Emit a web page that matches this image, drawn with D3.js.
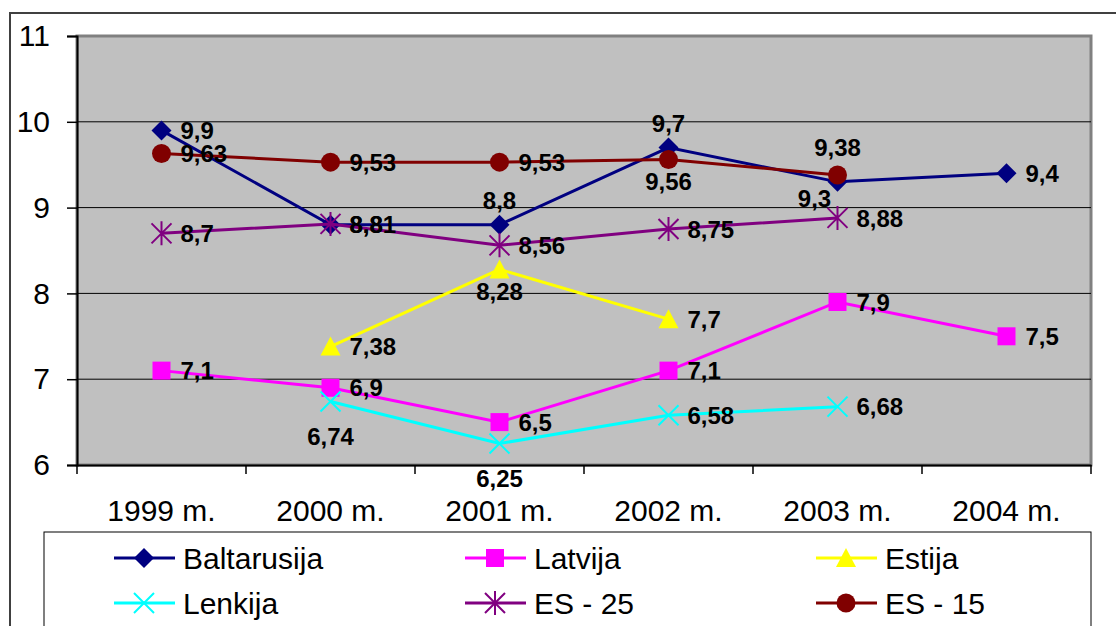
<!DOCTYPE html>
<html>
<head>
<meta charset="utf-8">
<script src="https://cdn.jsdelivr.net/npm/d3@7"></script>
<style>
  html, body { margin: 0; padding: 0; background: #fff; overflow: hidden; }
  svg { display: block; font-family: "Liberation Sans", Arial, sans-serif; }
</style>
</head>
<body>
<svg id="chart" width="1116" height="626"></svg>
<script>
// --- données ---
const years = ["1999 m.", "2000 m.", "2001 m.", "2002 m.", "2003 m.", "2004 m."];
const yTicks = [6, 7, 8, 9, 10, 11];

const baltarusija = [9.9, 8.8, 8.8, 9.7, 9.3, 9.4];
const latvija = [7.1, 6.9, 6.5, 7.1, 7.9, 7.5];
const estija = [null, 7.38, 8.28, 7.7, null, null];
const lenkija = [null, 6.74, 6.25, 6.58, 6.68, null];
const es25 = [8.7, 8.81, 8.56, 8.75, 8.88, null];
const es15 = [9.63, 9.53, 9.53, 9.56, 9.38, null];

// série : nom, valeurs, couleur, marqueur
const series = [
  { name: "Baltarusija", values: baltarusija, color: "#000080", marker: "diamond" },
  { name: "Latvija", values: latvija, color: "#ff00ff", marker: "square" },
  { name: "Estija", values: estija, color: "#ffff00", marker: "triangle" },
  { name: "Lenkija", values: lenkija, color: "#00ffff", marker: "cross" },
  { name: "ES - 25", values: es25, color: "#800080", marker: "star" },
  { name: "ES - 15", values: es15, color: "#800000", marker: "circle" }
];

// placement des étiquettes (r = droite par défaut)
const labelPlacement = {
  "Baltarusija": ["r", "r", "a", "a", "bl", "r"],
  "Estija": ["r", "r", "b", "r", "r", "r"],
  "Lenkija": ["r", "bb", "bb", "r", "r", "r"],
  "ES - 15": ["r", "r", "r", "b", "aa", "r"]
};

const svg = d3.select("#chart");

// cadre extérieur
svg.append("rect")
  .attr("x", 10).attr("y", 13)
  .attr("width", 1300).attr("height", 800)
  .attr("fill", "#fff").attr("stroke", "#404040").attr("stroke-width", 2);

const plot = { left: 77, top: 36, right: 1091, bottom: 465 };

const x = d3.scaleBand().domain(years).range([plot.left, plot.right]);
const y = d3.scaleLinear().domain([6, 11]).range([plot.bottom, plot.top]);

// fond gris
svg.append("rect")
  .attr("x", plot.left).attr("y", plot.top)
  .attr("width", plot.right - plot.left).attr("height", plot.bottom - plot.top)
  .attr("fill", "#c0c0c0").attr("stroke", "#808080").attr("stroke-width", 3);

// grille
svg.append("g")
  .selectAll("line")
  .data(yTicks.filter(t => t > 6 && t < 11))
  .join("line")
  .attr("x1", plot.left).attr("x2", plot.right)
  .attr("y1", d => y(d)).attr("y2", d => y(d))
  .attr("stroke", "#000").attr("stroke-width", 1);

// axe Y
const yAxis = svg.append("g")
  .attr("transform", `translate(${plot.left},0)`)
  .call(d3.axisLeft(y).tickValues(yTicks).tickSize(10).tickPadding(17).tickFormat(d3.format("d")));
yAxis.select(".domain").attr("stroke", "#000").attr("stroke-width", 2);
yAxis.selectAll(".tick line").attr("stroke", "#000").attr("stroke-width", 1.5);
yAxis.selectAll("text").attr("font-size", 30).attr("fill", "#000")
  .attr("font-family", "Liberation Sans, Arial, sans-serif");

// axe X
const xAxis = svg.append("g")
  .attr("transform", `translate(0,${plot.bottom})`)
  .call(d3.axisBottom(x).tickSize(0).tickPadding(35));
xAxis.select(".domain").attr("stroke", "#000").attr("stroke-width", 2);
xAxis.selectAll("text").attr("font-size", 30).attr("fill", "#000")
  .attr("font-family", "Liberation Sans, Arial, sans-serif");
// graduations entre catégories
svg.append("g")
  .selectAll("line")
  .data(years.map(d => x(d)).concat([plot.right]))
  .join("line")
  .attr("x1", d => d).attr("x2", d => d)
  .attr("y1", plot.bottom).attr("y2", plot.bottom + 9)
  .attr("stroke", "#000").attr("stroke-width", 1.5);

// marqueurs
function drawMarker(g, type, cx, cy, color) {
  if (type === "diamond") {
    g.append("path").attr("d", `M${cx},${cy - 10}L${cx + 10},${cy}L${cx},${cy + 10}L${cx - 10},${cy}Z`).attr("fill", color);
  } else if (type === "square") {
    g.append("rect").attr("x", cx - 9).attr("y", cy - 9).attr("width", 18).attr("height", 18).attr("fill", color);
  } else if (type === "triangle") {
    g.append("path").attr("d", `M${cx},${cy - 10}L${cx + 10},${cy + 9}L${cx - 10},${cy + 9}Z`).attr("fill", color);
  } else if (type === "circle") {
    g.append("circle").attr("cx", cx).attr("cy", cy).attr("r", 9.5).attr("fill", color);
  } else if (type === "cross") {
    g.append("path").attr("d", `M${cx - 10},${cy - 10}L${cx + 10},${cy + 10}M${cx + 10},${cy - 10}L${cx - 10},${cy + 10}`)
      .attr("stroke", color).attr("stroke-width", 2);
  } else if (type === "star") {
    g.append("path").attr("d", `M${cx - 10},${cy - 10}L${cx + 10},${cy + 10}M${cx + 10},${cy - 10}L${cx - 10},${cy + 10}M${cx},${cy - 12}L${cx},${cy + 12}`)
      .attr("stroke", color).attr("stroke-width", 2);
  }
}

const line = d3.line()
  .defined(d => d.v != null)
  .x(d => x(d.year) + x.bandwidth() / 2)
  .y(d => y(d.v));

const seriesG = svg.append("g");
series.forEach(s => {
  const pts = s.values.map((v, i) => ({ year: years[i], v }));
  const g = seriesG.append("g");
  g.append("path")
    .datum(pts)
    .attr("d", line)
    .attr("fill", "none")
    .attr("stroke", s.color)
    .attr("stroke-width", 3);
  pts.filter(p => p.v != null).forEach(p => {
    drawMarker(g, s.marker, x(p.year) + x.bandwidth() / 2, y(p.v), s.color);
  });
});

// étiquettes de valeurs
const labelG = svg.append("g")
  .attr("font-size", 24).attr("font-weight", "bold").attr("fill", "#000");
series.forEach(s => {
  const place = labelPlacement[s.name] || [];
  s.values.forEach((v, i) => {
    if (v == null) return;
    const cx = x(years[i]) + x.bandwidth() / 2, cy = y(v);
    const p = place[i] || "r";
    const t = labelG.append("text").text(String(v).replace(".", ","));
    if (p === "r") {
      t.attr("x", cx + 19).attr("y", cy).attr("dy", "0.36em");
    } else if (p === "a") {
      t.attr("x", cx).attr("y", cy - 24).attr("dy", "0.36em").attr("text-anchor", "middle");
    } else if (p === "aa") {
      t.attr("x", cx).attr("y", cy - 28).attr("dy", "0.36em").attr("text-anchor", "middle");
    } else if (p === "b") {
      t.attr("x", cx).attr("y", cy + 22).attr("dy", "0.36em").attr("text-anchor", "middle");
    } else if (p === "bb") {
      t.attr("x", cx).attr("y", cy + 35).attr("dy", "0.36em").attr("text-anchor", "middle");
    } else if (p === "bl") {
      t.attr("x", cx - 23).attr("y", cy + 16).attr("dy", "0.36em").attr("text-anchor", "middle");
    }
  });
});

// légende
const legend = svg.append("g");
legend.append("rect")
  .attr("x", 44).attr("y", 532)
  .attr("width", 1091 - 44).attr("height", 200)
  .attr("fill", "#fff").attr("stroke", "#000").attr("stroke-width", 1);

const legCols = [114, 465, 816];
const legRows = [558, 603];
series.forEach((s, i) => {
  const lx = legCols[i % 3], ly = legRows[Math.floor(i / 3)];
  const g = legend.append("g");
  g.append("line")
    .attr("x1", lx).attr("x2", lx + 61)
    .attr("y1", ly).attr("y2", ly)
    .attr("stroke", s.color).attr("stroke-width", 3);
  drawMarker(g, s.marker, lx + 30, ly, s.color);
  g.append("text")
    .attr("x", lx + 69).attr("y", ly).attr("dy", "0.36em")
    .attr("font-size", 30).attr("fill", "#000")
    .text(s.name);
});
</script>
</body>
</html>
